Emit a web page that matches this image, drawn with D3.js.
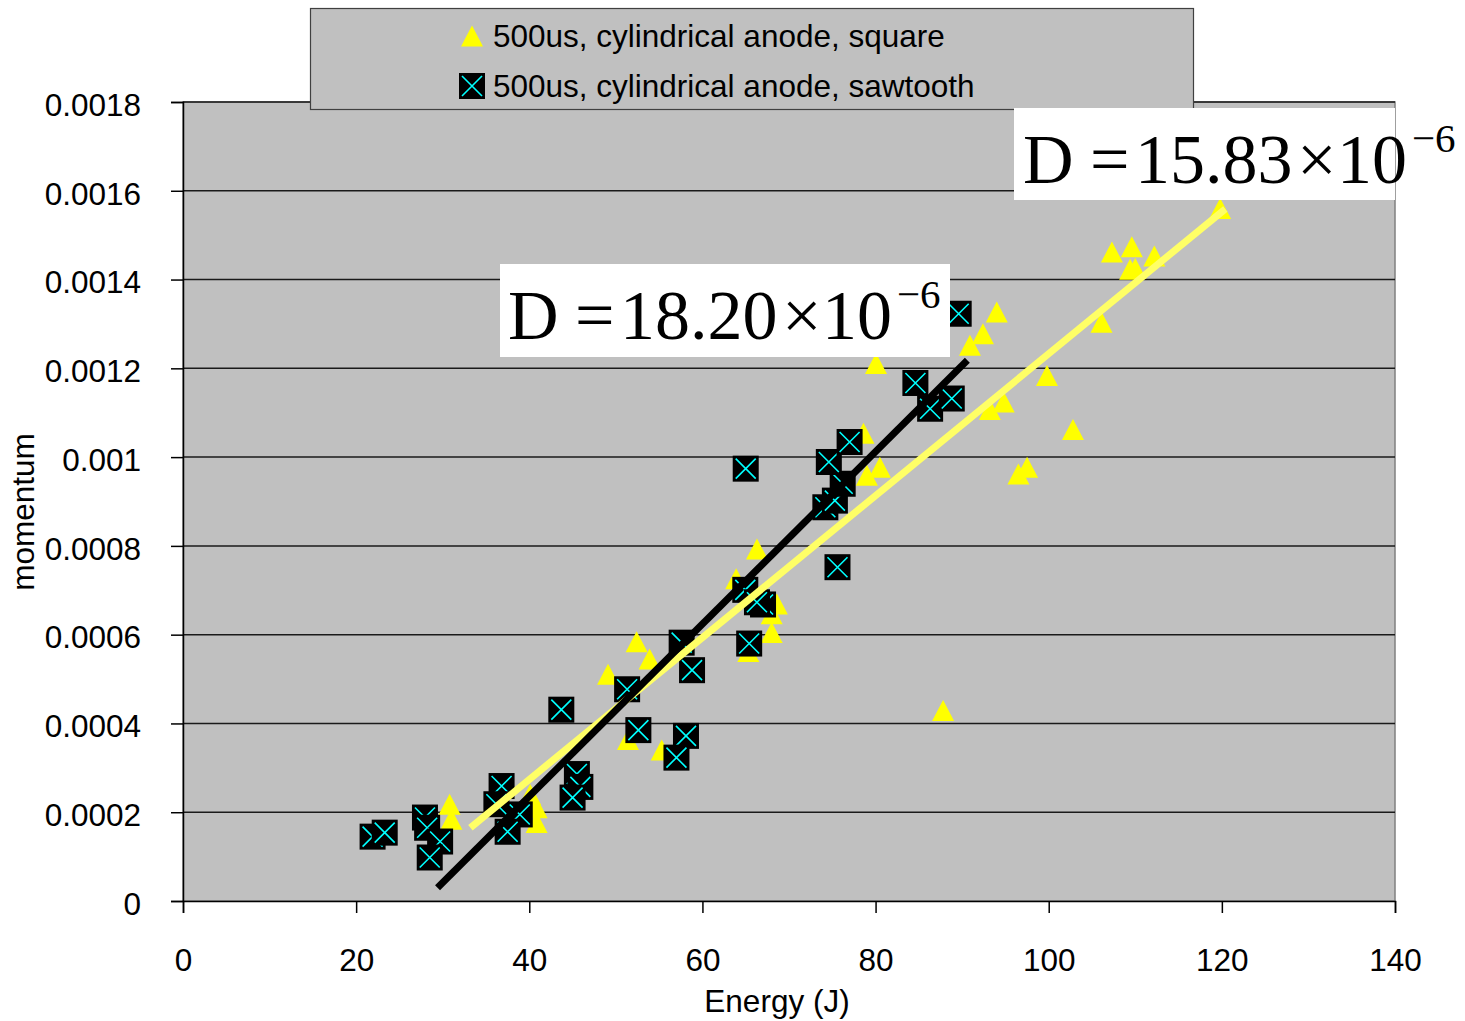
<!DOCTYPE html>
<html><head><meta charset="utf-8">
<script src="https://cdn.jsdelivr.net/npm/d3@7"></script>
<style>body{margin:0;background:#fff}svg{display:block}</style>
</head><body>
<script>
// ---- data ----
const squareE = [30.8,31.0,40.1,40.85,40.85,49.1,51.4,52.4,53.9,55.3,63.9,65.3,66.3,68.0,68.0,68.6,78.6,79.0,80.05,80.5,87.8,90.9,92.4,93.2,94.0,94.8,96.5,97.5,99.8,102.8,106.1,107.3,109.4,109.6,110.0,112.2,119.8];
const squareP = [0.000218,0.000184,0.000240,0.000210,0.000177,0.000511,0.000364,0.000584,0.000545,0.000340,0.000726,0.000562,0.000793,0.000605,0.000647,0.000669,0.001054,0.000959,0.001211,0.000977,0.000429,0.001252,0.001278,0.001107,0.001327,0.001124,0.000962,0.000977,0.001184,0.001062,0.001304,0.001462,0.001423,0.001474,0.001425,0.001453,0.001560];
const sawE = [21.9,23.3,27.95,28.2,29.7,28.5,36.8,36.2,38.9,37.5,43.7,45.5,45.9,45.0,51.3,52.6,58.8,58.1,57.0,57.6,65.0,65.4,64.95,67.0,66.3,75.6,74.2,75.3,76.2,74.6,77.0,86.3,88.8,84.6,89.6];
const sawP = [0.000145,0.000154,0.000188,0.000165,0.000134,0.000098,0.000259,0.000218,0.000195,0.000156,0.000431,0.000286,0.000257,0.000233,0.000477,0.000385,0.000520,0.000372,0.000323,0.000582,0.000974,0.000580,0.000701,0.000668,0.000673,0.000752,0.000887,0.000902,0.000940,0.000989,0.001034,0.001109,0.001132,0.001167,0.001323];
const trendSawE = [29.4, 90.6];
const trendSawP = [0.00003, 0.001218];
const trendSqE = [33.2, 120.4];
const trendSqP = [0.000165, 0.001559];
const xTicks = [0,20,40,60,80,100,120,140];
const yTicks = [0,0.0002,0.0004,0.0006,0.0008,0.001,0.0012,0.0014,0.0016,0.0018];
const yTickLabels = ["0","0.0002","0.0004","0.0006","0.0008","0.001","0.0012","0.0014","0.0016","0.0018"];
const legendLabels = ["500us, cylindrical anode, square","500us, cylindrical anode, sawtooth"];
const eqSaw = {num:"18.20", exp:"−6"};
const eqSq = {num:"15.83", exp:"−6"};

// ---- layout ----
const W=1465,H=1021;
const L=183,R=1395,T=102,B=901;
const FS=31.5;
const svg=d3.select("body").append("svg").attr("width",W).attr("height",H);
const x=d3.scaleLinear().domain([0,140]).range([L,R]);
const y=d3.scaleLinear().domain([0,0.0018]).range([B,T]);
const sans="'Liberation Sans', Arial, sans-serif";
const serif="'Liberation Serif','Times New Roman',serif";

svg.append("rect").attr("x",L).attr("y",T).attr("width",R-L).attr("height",B-T)
  .attr("fill","#C0C0C0").attr("stroke","#808080").attr("stroke-width",1.5);

// gridlines
svg.append("g").selectAll("line").data(yTicks.slice(1)).join("line")
  .attr("x1",L).attr("x2",R).attr("y1",d=>y(d)).attr("y2",d=>y(d))
  .attr("stroke","#1a1a1a").attr("stroke-width",1.5);

// axes
const yAxis=svg.append("g").attr("transform",`translate(${L},0)`)
  .call(d3.axisLeft(y).tickValues(yTicks).tickSize(12).tickFormat((d,i)=>yTickLabels[i]));
yAxis.select(".domain").attr("stroke","#000").attr("stroke-width",1.5);
yAxis.selectAll(".tick line").attr("stroke","#000").attr("stroke-width",1.5);
yAxis.selectAll(".tick text").attr("font-family",sans).attr("font-size",FS).attr("fill","#000")
  .attr("x",-42).attr("dy","0.42em");

const xAxis=svg.append("g").attr("transform",`translate(0,${B})`)
  .call(d3.axisBottom(x).tickValues(xTicks).tickSize(12).tickFormat(d3.format("d")));
xAxis.select(".domain").attr("stroke","#000").attr("stroke-width",1.5);
xAxis.selectAll(".tick line").attr("stroke","#000").attr("stroke-width",1.5);
xAxis.selectAll(".tick text").attr("font-family",sans).attr("font-size",FS).attr("fill","#000")
  .attr("y",70).attr("dy",0);

svg.append("text").attr("x",777).attr("y",1012).attr("text-anchor","middle")
  .attr("font-family",sans).attr("font-size",FS).text("Energy (J)");
svg.append("text").attr("transform","translate(34,512) rotate(-90)").attr("text-anchor","middle")
  .attr("font-family",sans).attr("font-size",FS).text("momentum");

// markers
function tri(g,cx,cy){
  g.append("path").attr("d",`M${cx},${cy-10.5}L${cx+11},${cy+10.5}L${cx-11},${cy+10.5}Z`).attr("fill","#FFFF00");
}
function sq(g,cx,cy){
  const s=13;
  g.append("rect").attr("x",cx-s).attr("y",cy-s).attr("width",2*s).attr("height",2*s).attr("fill","#000");
  g.append("path").attr("d",`M${cx-s+3},${cy-s+3}L${cx+s-3},${cy+s-3}M${cx+s-3},${cy-s+3}L${cx-s+3},${cy+s-3}`)
    .attr("stroke","#00FFFF").attr("stroke-width",1.6);
}
const gTri=svg.append("g");
squareE.forEach((e,i)=>tri(gTri,x(e),y(squareP[i])));
const gSq=svg.append("g");
sawE.forEach((e,i)=>sq(gSq,x(e),y(sawP[i])));

// trend lines
const line=d3.line().x(d=>x(d[0])).y(d=>y(d[1]));
svg.append("path").attr("d",line(trendSqE.map((e,i)=>[e,trendSqP[i]])))
  .attr("stroke","#FFFF66").attr("stroke-width",7).attr("fill","none");
svg.append("path").attr("d",line(trendSawE.map((e,i)=>[e,trendSawP[i]])))
  .attr("stroke","#000").attr("stroke-width",7).attr("fill","none");

// legend
svg.append("rect").attr("x",310.5).attr("y",8.5).attr("width",883).attr("height",101)
  .attr("fill","#C0C0C0").attr("stroke","#404040").attr("stroke-width",1.2);
const gl=svg.append("g");
tri(gl,472,36); sq(gl,472,86);
legendLabels.forEach((t,i)=>{
  gl.append("text").attr("x",493).attr("y",47+i*50).attr("font-family",sans).attr("font-size",FS).text(t);
});

// equation boxes
function eq(bx,by,bw,bh,x0,base,e){
  svg.append("rect").attr("x",bx).attr("y",by).attr("width",bw).attr("height",bh).attr("fill","#fff");
  const t=svg.append("text").attr("font-family",serif).attr("font-size",70).attr("fill","#000");
  t.append("tspan").attr("x",x0).attr("y",base).text("D");
  t.append("tspan").attr("x",x0+67).attr("y",base).text("=");
  t.append("tspan").attr("x",x0+112).attr("y",base).text(e.num);
  t.append("tspan").attr("x",x0+274).attr("y",base).text("×");
  t.append("tspan").attr("x",x0+314).attr("y",base).text("10");
  t.append("tspan").attr("x",x0+389).attr("y",base-31).attr("font-size",41).text(e.exp);
}
eq(500,264,450,93,508,339,eqSaw);
eq(1014,108,381,92,1023,183,eqSq);
</script>
</body></html>
